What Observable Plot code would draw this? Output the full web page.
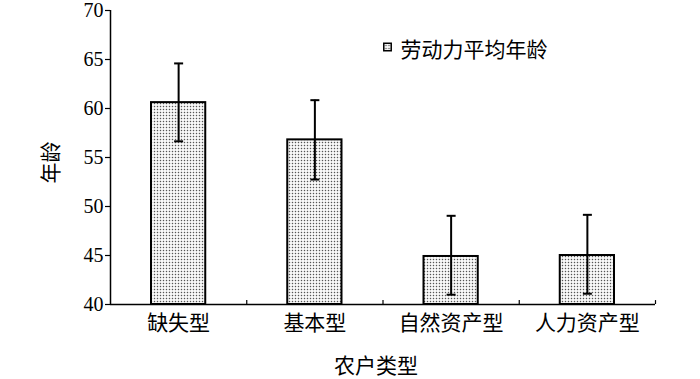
<!DOCTYPE html>
<html>
<head>
<meta charset="utf-8">
<script src="https://cdn.jsdelivr.net/npm/d3@7"></script>
<script src="https://cdn.jsdelivr.net/npm/@observablehq/plot@0.6"></script>
<style>
  html, body { margin: 0; padding: 0; background: #fff; }
  #chart svg { display: block; }
</style>
</head>
<body>
<div id="chart"></div>
<script>
// Data
const categories = ["缺失型", "基本型", "自然资产型", "人力资产型"];
const means = [60.6, 56.8, 44.9, 45.0];
const upper = [64.6, 60.85, 49.05, 49.15];
const lower = [56.65, 52.75, 41.0, 41.1];
const yTicks = [40, 45, 50, 55, 60, 65, 70];
const seriesName = "劳动力平均年龄";
const xTitle = "农户类型";
const yTitle = "年龄";

const data = categories.map((c, i) => ({i, c, mean: means[i], hi: upper[i], lo: lower[i]}));

const capSymbol = {draw(ctx) { ctx.moveTo(-4.5, 0); ctx.lineTo(4.5, 0); }};

const cjk = "Noto Sans CJK SC";
const serif = "Liberation Serif";

function draw() {
  const chart = Plot.plot({
    width: 700,
    height: 379,
    marginLeft: 110,
    marginRight: 45,
    marginTop: 10,
    marginBottom: 75,
    style: {color: "#000", background: "#fff", overflow: "visible"},
    x: {domain: [0, categories.length], axis: null},
    y: {domain: [40, 70], axis: null},
    marks: [
      Plot.rectY(data, {
        x1: d => d.i, x2: d => d.i + 1, y1: 40, y2: "mean",
        insetLeft: 41, insetRight: 41,
        fill: "url(#dots)", stroke: "#000", strokeWidth: 2
      }),
      Plot.ruleX(data, {x: d => d.i + 0.5, y1: "lo", y2: "hi", stroke: "#000", strokeWidth: 2}),
      Plot.dot(data, {x: d => d.i + 0.5, y: "hi", symbol: capSymbol, stroke: "#000", strokeWidth: 2, fill: "none"}),
      Plot.dot(data, {x: d => d.i + 0.5, y: "lo", symbol: capSymbol, stroke: "#000", strokeWidth: 2, fill: "none"}),
      Plot.ruleX([0], {stroke: "#000", strokeWidth: 1.5}),
      Plot.ruleY([40], {stroke: "#000", strokeWidth: 1.5}),
      Plot.ruleX([1, 2, 3, 4], {y1: 40, y2: 40.4, stroke: "#000", strokeWidth: 1.2}),
      Plot.axisY({ticks: yTicks, tickSize: 5, tickPadding: 2, fontSize: 20, fontFamily: serif, label: null, strokeWidth: 1.2}),
      Plot.axisX({
        ticks: categories.map((c, i) => i + 0.5),
        tickFormat: d => categories[Math.floor(d)],
        tickSize: 0, tickPadding: 11, fontSize: 21, fontFamily: cjk, label: null
      }),
      Plot.text([yTitle], {frameAnchor: "left", dx: -59, dy: 5, rotate: -90, textAnchor: "middle", lineAnchor: "middle", fontSize: 21, fontFamily: cjk}),
      Plot.text([xTitle], {frameAnchor: "bottom", dx: -7, dy: 62, textAnchor: "middle", lineAnchor: "middle", fontSize: 21, fontFamily: cjk}),
      Plot.dot([seriesName], {frameAnchor: "top-left", dx: 277, dy: 36.5, symbol: "square", r: 4.2, fill: "url(#dots)", stroke: "#000", strokeWidth: 1.5}),
      Plot.text([seriesName], {frameAnchor: "top-left", dx: 290, dy: 40, textAnchor: "start", lineAnchor: "middle", fontSize: 21, fontFamily: cjk})
    ]
  });

  const svgSel = d3.select(chart);
  svgSel.selectAll("text").each(function() {
    if (/^[0-9\s]+$/.test(this.textContent)) {
      this.setAttribute("font-family", serif);
      this.style.fontFamily = serif;
      this.style.fontVariant = "normal";
    }
  });

  // dotted fill pattern
  const defs = svgSel.insert("defs", ":first-child");
  const pat = defs.append("pattern")
    .attr("id", "dots").attr("patternUnits", "userSpaceOnUse")
    .attr("width", 3).attr("height", 3);
  pat.append("rect").attr("width", 3).attr("height", 3).attr("fill", "#fff");
  pat.append("rect").attr("x", 0.8).attr("y", 0.8).attr("width", 1.4).attr("height", 1.4).attr("fill", "#555");

  const host = document.getElementById("chart");
  host.replaceChildren(chart);
}

draw();
if (document.fonts && document.fonts.load) {
  document.fonts.load("20px 'Liberation Serif'", "0123456789").then(draw).catch(() => {});
}
</script>
</body>
</html>
